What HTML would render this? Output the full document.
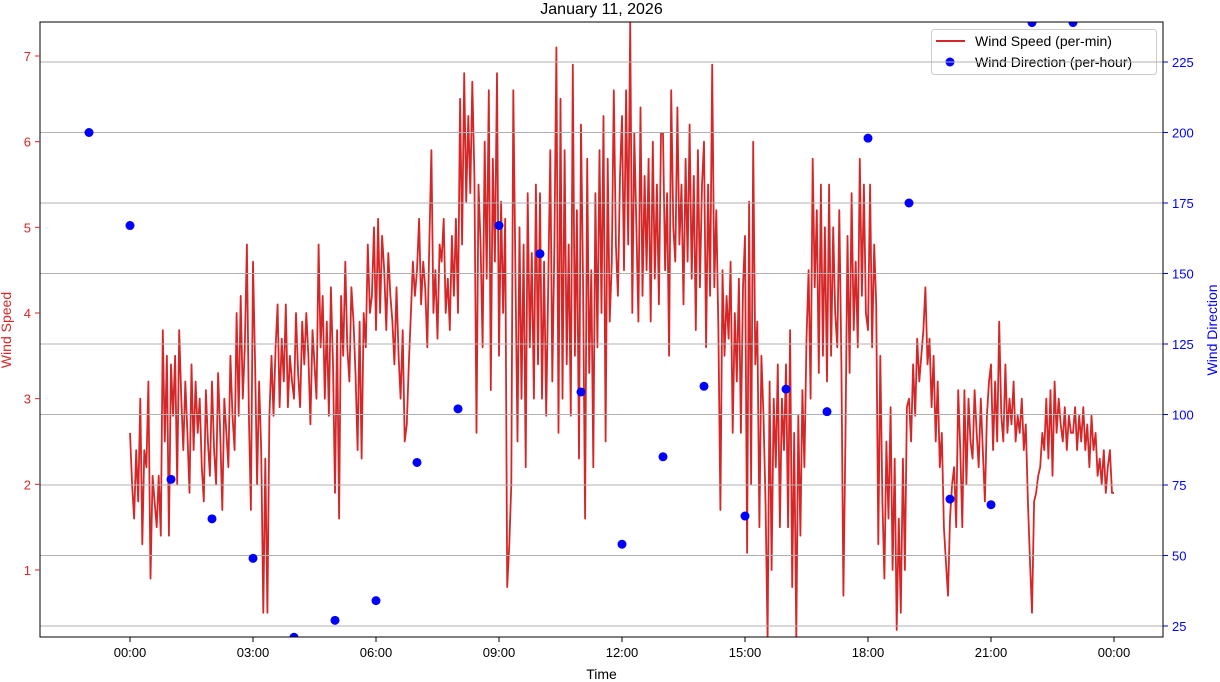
<!DOCTYPE html>
<html><head><meta charset="utf-8">
<style>
html,body{margin:0;padding:0;background:#fff;}
svg{display:block;font-family:"Liberation Sans","DejaVu Sans",sans-serif;}
</style></head>
<body>
<svg id="chart" width="1220" height="682" viewBox="0 0 1220 682" xmlns="http://www.w3.org/2000/svg"></svg>
<script>
// ---- data ----
const speedStartHour = 0;
const speedStepHours = 0.05;
const windSpeed = [
2.6,2.0,1.6,2.4,1.8,3.0,1.3,2.4,2.2,3.2,0.9,2.1,1.8,1.5,2.1,1.4,3.8,2.5,3.5,1.4,
3.4,2.8,3.5,2.0,3.8,3.0,2.4,3.2,2.6,1.9,3.4,2.4,3.2,2.6,3.0,2.2,1.8,3.1,2.5,2.1,
3.2,2.4,2.0,3.3,2.6,1.7,3.0,2.6,2.2,3.5,2.8,2.4,4.0,2.8,4.2,3.0,3.6,4.8,2.8,1.7,
4.6,3.4,2.0,3.2,2.4,0.5,2.3,0.5,2.8,3.5,2.8,3.6,4.1,2.9,3.7,3.2,4.1,2.9,3.5,3.2,
3.0,4.0,3.3,2.9,3.9,3.4,4.0,3.5,2.7,3.8,3.4,3.0,4.8,3.6,4.2,3.0,3.9,2.8,4.3,3.4,
1.9,3.8,1.6,4.2,3.5,4.6,3.6,3.2,4.3,3.9,3.3,2.4,3.9,2.3,4.0,3.6,4.8,4.0,4.2,5.0,
3.8,5.1,4.0,4.9,4.5,3.8,4.7,4.2,3.9,3.4,4.3,3.5,3.0,3.8,2.5,2.7,3.4,4.0,4.6,4.2,
4.5,5.1,4.1,4.6,4.3,3.6,4.8,5.9,4.0,4.5,3.7,4.8,4.6,5.1,4.0,4.4,3.8,4.9,4.2,5.1,
4.0,6.5,4.8,6.8,5.3,6.3,5.4,6.7,5.6,2.6,5.5,4.8,3.6,6.0,4.4,6.6,3.1,5.8,4.6,6.8,
3.5,5.3,4.0,5.1,0.8,1.3,2.0,6.6,4.5,2.5,5.0,3.0,4.8,2.2,5.4,3.6,4.7,3.0,5.5,3.4,
5.4,3.0,4.6,2.8,4.3,5.9,3.2,4.8,7.1,2.6,6.5,3.0,5.9,3.4,4.8,2.8,6.9,3.5,5.2,2.3,
6.2,4.4,1.6,5.8,3.3,4.5,2.2,5.4,3.6,5.9,4.0,6.3,2.5,5.8,3.9,4.6,6.6,4.8,4.2,5.6,
6.3,4.5,6.6,4.8,7.4,4.0,6.1,5.0,3.9,6.4,4.2,5.6,4.5,5.8,3.9,6.0,4.4,5.5,4.1,6.1,
6.1,4.5,5.4,3.5,6.6,5.0,4.6,6.4,4.8,5.5,4.1,5.8,4.6,6.2,4.4,5.6,3.8,5.9,4.3,5.5,
6.0,3.6,5.5,4.2,6.9,4.3,5.2,3.8,1.7,4.5,3.5,4.2,3.7,4.6,2.6,4.0,3.2,4.4,2.6,4.3,
4.9,1.2,5.3,2.0,6.0,3.4,3.9,1.5,3.5,2.8,1.8,0.2,3.2,1.0,3.0,2.2,3.4,1.5,3.0,2.4,
3.4,1.5,3.8,0.8,2.6,0.2,2.8,1.4,3.1,2.2,3.7,4.5,3.0,5.8,4.3,5.2,3.3,5.5,3.5,5.0,
3.2,5.5,3.5,5.0,4.0,3.6,5.2,3.4,0.7,2.5,4.9,3.3,5.4,3.8,4.6,3.6,5.8,4.2,5.5,4.0,
3.8,5.5,3.6,4.8,4.1,1.3,3.5,1.8,0.9,2.5,1.6,2.9,1.0,2.3,0.3,1.6,0.5,2.3,1.0,2.9,
3.0,2.5,3.4,2.8,3.7,3.2,3.5,3.8,4.3,3.4,3.7,2.9,3.5,2.5,3.2,2.2,2.6,1.5,1.1,0.7,
1.6,2.0,2.2,1.5,3.1,2.4,1.5,3.1,2.0,3.0,2.5,2.3,3.1,2.6,2.2,3.0,2.4,1.8,2.8,3.2,
3.4,2.4,3.2,2.5,3.9,2.8,2.5,3.4,2.6,3.0,2.7,3.2,2.5,2.8,2.6,3.0,2.4,2.7,1.8,1.1,
0.5,1.8,1.9,2.1,2.2,2.6,2.4,3.0,2.3,3.1,2.1,3.2,2.6,3.0,2.7,2.5,2.9,2.4,2.8,2.6,
2.6,2.9,2.4,2.8,2.5,2.9,2.4,2.7,2.2,2.8,2.4,2.6,2.1,2.3,2.0,2.4,1.9,2.2,2.4,1.9,1.9];
const dirHours = [-1,0,1,2,3,4,5,6,7,8,9,10,11,12,13,14,15,16,17,18,19,20,21,22,23];
const windDir = [200,167,77,63,49,21,27,34,83,102,167,157,108,54,85,110,64,109,101,198,175,70,68,239,239];
const xTickHours = [0,3,6,9,12,15,18,21,24];
const xTickLabels = ["00:00","03:00","06:00","09:00","12:00","15:00","18:00","21:00","00:00"];
const leftTicks = [1,2,3,4,5,6,7];
const rightTicks = [25,50,75,100,125,150,175,200,225];

// ---- layout ----
const L=40,R=1163,T=22,B=637;
const xScale=h=>130+h*41;
const ySpeed=v=>570-(v-1)*85.667;
const yDir=v=>626-(v-25)*2.82;
const NS="http://www.w3.org/2000/svg";
const svg=document.getElementById('chart');
function mk(tag,attrs,parent){const e=document.createElementNS(NS,tag);for(const k in attrs)e.setAttribute(k,attrs[k]);(parent||svg).appendChild(e);return e;}

const clip=mk('clipPath',{id:'pc'});mk('rect',{x:L,y:T,width:R-L,height:B-T},clip);

const title=mk('text',{x:(L+R)/2,y:14,'text-anchor':'middle','font-size':16,fill:'#000'});


title.textContent='January 11, 2026';

const sg=mk('g',{'clip-path':'url(#pc)'});


let d='';
windSpeed.forEach((v,i)=>{const x=xScale(speedStartHour+i*speedStepHours),y=ySpeed(v);d+=(i?'L':'M')+x.toFixed(1)+','+y.toFixed(1);});
const line=mk('path',{d:d,fill:'none',stroke:'#d62728','stroke-width':1.8,'stroke-linejoin':'round'},sg);



const lg=mk('g',{});


mk('rect',{x:931.5,y:29.5,width:225,height:45,rx:3,fill:'#fff',stroke:'#ccc'},lg);
mk('line',{x1:936,y1:41,x2:965,y2:41,stroke:'#d62728','stroke-width':2},lg);
const t1=mk('text',{x:975,y:46,'font-size':14,fill:'#000'},lg);


t1.textContent='Wind Speed (per-min)';
mk('circle',{cx:950,cy:62,r:4.5,fill:'#0000ff'},lg);
const t2=mk('text',{x:975,y:67,'font-size':14,fill:'#000'},lg);


t2.textContent='Wind Direction (per-hour)';

rightTicks.forEach(v=>{const y=yDir(v);
 const g=mk('line',{x1:L,y1:y,x2:R,y2:y,stroke:'#b0b0b0','stroke-width':1});
 
 
 mk('line',{x1:R,y1:y,x2:R+5,y2:y,stroke:'#0000ff'});
 const t=mk('text',{x:R+9,y:y+5,'font-size':13,fill:'#0000ff'});
 
 
 t.textContent=v;
});

const dg=mk('g',{'clip-path':'url(#pc)'});


windDir.forEach((v,i)=>{
 const c=mk('circle',{cx:xScale(dirHours[i]),cy:yDir(v),r:4.5,fill:'#0000ff'},dg);
 
 
});

mk('rect',{x:L,y:T,width:R-L,height:B-T,fill:'none',stroke:'#000','stroke-width':1});

leftTicks.forEach(v=>{const y=ySpeed(v);
 mk('line',{x1:L-5,y1:y,x2:L,y2:y,stroke:'#d62728'});
 const t=mk('text',{x:L-9,y:y+5,'font-size':13,fill:'#d62728','text-anchor':'end'});
 
 
 t.textContent=v;
});
xTickHours.forEach((h,i)=>{const x=xScale(h);
 mk('line',{x1:x,y1:B,x2:x,y2:B+5,stroke:'#000'});
 const t=mk('text',{x:x,y:B+20,'font-size':13,fill:'#000','text-anchor':'middle'});
 
 
 t.textContent=xTickLabels[i];
});
const xt=mk('text',{x:(L+R)/2,y:679,'font-size':14,'text-anchor':'middle',fill:'#000'});


xt.textContent='Time';
const yl=mk('text',{x:0,y:0,'font-size':14,'text-anchor':'middle',fill:'#d62728',transform:'translate(11,330) rotate(-90)'});


yl.textContent='Wind Speed';
const yr=mk('text',{x:0,y:0,'font-size':14,'text-anchor':'middle',fill:'#0000ff',transform:'translate(1217,330) rotate(-90)'});


yr.textContent='Wind Direction';
</script>
</body></html>
